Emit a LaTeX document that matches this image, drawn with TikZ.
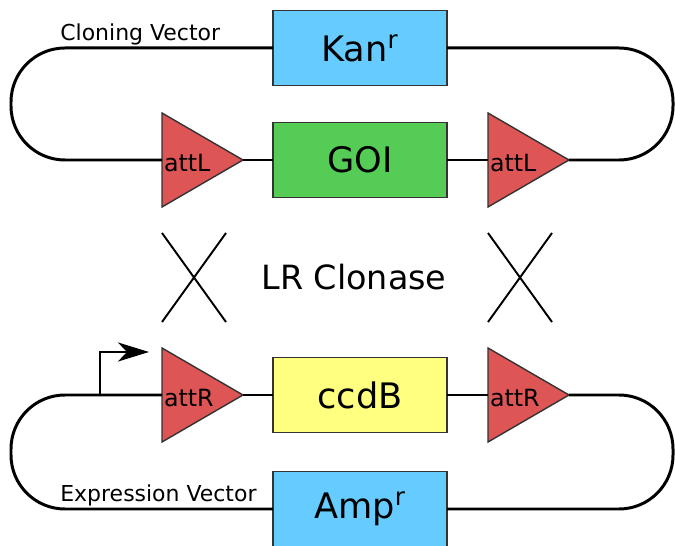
\documentclass[tikz,border=0pt]{standalone}
\usepackage{fontspec}
\setmainfont{DejaVu Sans}
\usetikzlibrary{shapes.geometric,arrows.meta}
\definecolor{resblue}{HTML}{66CCFF}
\definecolor{goigreen}{HTML}{55CC55}
\definecolor{ccdbyellow}{HTML}{FFFF80}
\definecolor{attred}{HTML}{DD5555}

\begin{document}
\begin{tikzpicture}[x=0.02cm, y=-0.02cm,
  gene/.style={draw=black!80, line width=0.8pt, minimum width=3.48cm, minimum height=1.5cm, inner sep=0pt, outer sep=0pt, font=\fontsize{20}{24}\selectfont},
  site/.style={isosceles triangle, isosceles triangle stretches, shape border rotate=0, draw=black!80, line width=0.8pt, fill=attred, minimum width=1.88cm, minimum height=1.62cm, inner sep=0pt, outer sep=0pt, anchor=lower side, label={[anchor=west, inner sep=1pt, yshift=-2pt, font=\fontsize{13.5}{16}\selectfont]west:#1}},
  dna/.style={line width=1.7pt, rounded corners=1.08cm},
  cross/.style={line width=1.1pt}]
  \useasboundingbox (0,0) rectangle (675,546);

  % cloning vector
  \node[gene, fill=resblue] (kan) at (360,48) {Kan\textsuperscript{r}};
  \node[gene, fill=goigreen] (goi) at (360,160) {GOI};
  \node[site=attL] (attL1) at (162,160) {};
  \node[site=attL] (attL2) at (488,160) {};
  \draw[dna] (kan.west) -- (11,48) -- (11,160) -- (attL1.lower side);
  \draw[dna] (kan.east) -- (673,48) -- (673,160) -- (attL2.apex);
  \draw[dna] (attL1.apex) -- (goi.west) (goi.east) -- (attL2.lower side);
  \node[anchor=base west, font=\fontsize{12.5}{15}\selectfont, inner sep=0pt] (cloning) at (60,40.5) {Cloning Vector};

  % recombination
  \draw[cross] (162,233) -- (226,322) (226,233) -- (162,322);
  \draw[cross] (488,233) -- (552,322) (552,233) -- (488,322);
  \node[font=\fontsize{19}{22}\selectfont] (clonase) at (354,277) {LR Clonase};

  % expression vector
  \node[gene, fill=ccdbyellow] (ccdb) at (360,395) {ccdB};
  \node[gene, fill=resblue] (amp) at (360,509) {Amp\textsuperscript{r}};
  \node[site=attR] (attR1) at (162,395) {};
  \node[site=attR] (attR2) at (488,395) {};
  \draw[dna] (attR1.lower side) -- (11,395) -- (11,509) -- (amp.west);
  \draw[dna] (amp.east) -- (673,509) -- (673,395) -- (attR2.apex);
  \draw[dna] (attR1.apex) -- (ccdb.west) (ccdb.east) -- (attR2.lower side);
  \node[anchor=base west, font=\fontsize{12.5}{15}\selectfont, inner sep=0pt] (expression) at (60,501) {Expression Vector};

  % promoter
  \coordinate (tss) at (100,395);
  \coordinate (tssend) at (149,352);
  \draw[line width=1.7pt, -{Stealth[length=0.62cm, width=0.38cm, inset=0.18cm]}] (tss) |- (tssend);
\end{tikzpicture}
\end{document}
